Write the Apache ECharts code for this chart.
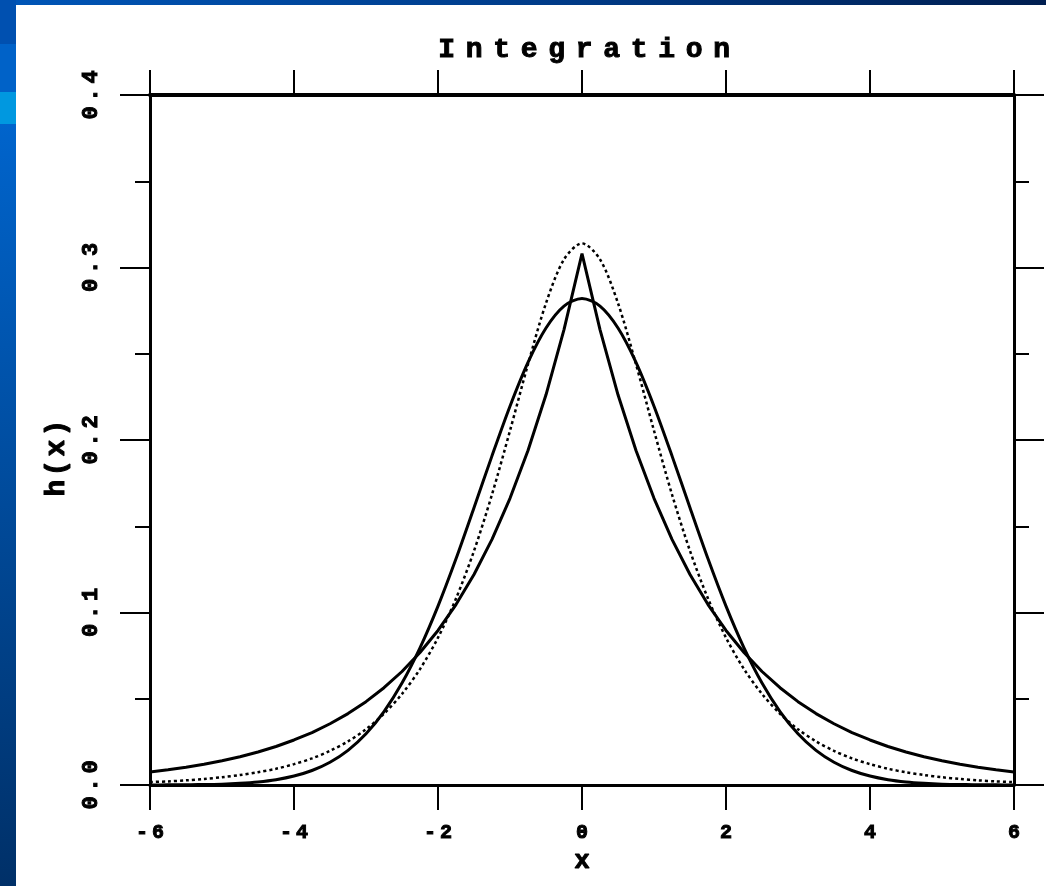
<!DOCTYPE html>
<html>
<head>
<meta charset="utf-8">
<script src="https://cdn.jsdelivr.net/npm/echarts@6/dist/echarts.min.js"></script>
<style>
html,body{margin:0;padding:0;width:1046px;height:886px;overflow:hidden;background:#fff;}
#bgTop{position:absolute;left:0;top:0;width:1046px;height:5px;background:linear-gradient(to right,#0056b8,#003a86 55%,#001e50);}
#bgLeft{position:absolute;left:0;top:0;width:16px;height:886px;background:linear-gradient(to bottom,#0050b0 0,#0050b0 44px,#0062c8 44px,#0062c8 92px,#0098e0 92px,#0098e0 124px,#0064cc 124px,#003068 886px);}
#chart{position:absolute;left:0;top:0;width:1046px;height:886px;}
</style>
</head>
<body>
<div id="bgTop"></div>
<div id="bgLeft"></div>
<div id="chart"></div>
<script>
// ---- data ----
const titleText = 'Integration';
const xName = 'x';
const yName = 'h(x)';
const xTicks = [-6, -4, -2, 0, 2, 4, 6];
const yTicks = [0.0, 0.1, 0.2, 0.3, 0.4];

const xValues = [-6,-5.75,-5.5,-5.25,-5,-4.75,-4.5,-4.25,-4,-3.75,-3.5,-3.25,-3,-2.75,-2.5,-2.25,-2,-1.75,-1.5,-1.25,-1,-0.75,-0.5,-0.25,
  0,0.25,0.5,0.75,1,1.25,1.5,1.75,2,2.25,2.5,2.75,3,3.25,3.5,3.75,4,4.25,4.5,4.75,5,5.25,5.5,5.75,6];

// broad, rounded solid curve
const broadSolid = [0.0000,0.0001,0.0001,0.0003,0.0005,0.0010,0.0018,0.0031,0.0052,0.0084,0.0132,0.0201,0.0297,0.0426,0.0591,0.0795,0.1037,0.1311,0.1607,0.1908,0.2196,0.2450,0.2649,0.2776,
  0.2820,0.2776,0.2649,0.2450,0.2196,0.1908,0.1607,0.1311,0.1037,0.0795,0.0591,0.0426,0.0297,0.0201,0.0132,0.0084,0.0052,0.0031,0.0018,0.0010,0.0005,0.0003,0.0001,0.0001,0.0000];

// sharp-peaked solid curve with heavy tails
const cuspSolid = [0.0076,0.0088,0.0103,0.0120,0.0141,0.0164,0.0191,0.0223,0.0261,0.0304,0.0355,0.0414,0.0483,0.0564,0.0658,0.0768,0.0896,0.1046,0.1220,0.1424,0.1662,0.1939,0.2262,0.2640,
  0.3080,0.2640,0.2262,0.1939,0.1662,0.1424,0.1220,0.1046,0.0896,0.0768,0.0658,0.0564,0.0483,0.0414,0.0355,0.0304,0.0261,0.0223,0.0191,0.0164,0.0141,0.0120,0.0103,0.0088,0.0076];

// dotted curve
const dottedCurve = [0.0017,0.0021,0.0027,0.0035,0.0045,0.0058,0.0074,0.0094,0.0121,0.0154,0.0198,0.0253,0.0323,0.0413,0.0528,0.0672,0.0854,0.1081,0.1357,0.1684,0.2054,0.2439,0.2793,0.3047,
  0.3140,0.3047,0.2793,0.2439,0.2054,0.1684,0.1357,0.1081,0.0854,0.0672,0.0528,0.0413,0.0323,0.0253,0.0198,0.0154,0.0121,0.0094,0.0074,0.0058,0.0045,0.0035,0.0027,0.0021,0.0017];

// ---- chart ----
const FONT = '"Liberation Mono", "DejaVu Sans Mono", monospace';
function spaced(str, key) {
  return String(str).split('').map(function (ch) { return '{' + key + '|' + ch + '}'; }).join('');
}
function pairs(ys) { return xValues.map(function (x, i) { return [x, ys[i]]; }); }
function glyph(size, width, lh) {
  return { fontFamily: FONT, fontWeight: 'bold', fontSize: size, width: width, align: 'center', color: '#000',
           lineHeight: lh, textBorderColor: '#000', textBorderWidth: 1 };
}

const black = '#000';
const xMin = xTicks[0], xMax = xTicks[xTicks.length - 1];
const xInt = xTicks[1] - xTicks[0];
const yMin = yTicks[0], yMax = yTicks[yTicks.length - 1];
const yInt = yTicks[1] - yTicks[0];

const chart = echarts.init(document.getElementById('chart'), null, { renderer: 'canvas' });

const baseX = {
  type: 'value', min: xMin, max: xMax, interval: xInt,
  splitLine: { show: false },
  axisTick: { show: true, inside: false, length: 25, lineStyle: { color: black, width: 2 } },
  axisLine: { show: true, onZero: false, lineStyle: { color: black, width: 3 } }
};
const baseY = {
  type: 'value', min: yMin, max: yMax, interval: yInt,
  splitLine: { show: false },
  axisTick: { show: true, inside: false, length: 30, lineStyle: { color: black, width: 2 } },
  minorTick: { show: true, splitNumber: 2, length: 15, lineStyle: { color: black, width: 2 } },
  minorSplitLine: { show: false },
  axisLine: { show: true, onZero: false, lineStyle: { color: black, width: 3 } }
};

chart.setOption({
  backgroundColor: 'transparent',
  animation: false,
  title: {
    text: spaced(titleText, 't'),
    left: 428, top: 30,
    textStyle: { rich: { t: glyph(28, 27.5, 30) } }
  },
  grid: { left: 150, right: 32, top: 95, bottom: 101, containLabel: false },
  xAxis: [
    Object.assign({}, baseX, {
      position: 'bottom',
      axisLabel: {
        show: true, margin: 38,
        formatter: function (v) { return spaced(v, 'l'); },
        rich: { l: glyph(20, 16, 20) }
      },
      name: spaced(xName, 'n'), nameLocation: 'middle', nameGap: 59,
      nameTextStyle: { rich: { n: glyph(26, 18, 24) } }
    }),
    Object.assign({}, baseX, {
      position: 'top',
      axisLabel: { show: false },
      axisLine: { show: true, onZero: false, lineStyle: { color: black, width: 4 } }
    })
  ],
  yAxis: [
    Object.assign({}, baseY, {
      position: 'left',
      axisLabel: {
        show: true, rotate: 90, margin: 50,
        formatter: function (v) { return spaced(v.toFixed(1), 'l'); },
        rich: { l: glyph(22, 18, 18) }
      },
      name: spaced(yName, 'n'), nameLocation: 'middle', nameRotate: 90, nameGap: 64,
      nameTextStyle: { padding: [0, 36, 0, 0], rich: { n: glyph(28, 20, 24) } }
    }),
    Object.assign({}, baseY, {
      position: 'right',
      axisLabel: { show: false }
    })
  ],
  series: [
    { name: 'broad', type: 'line', xAxisIndex: 0, yAxisIndex: 0, data: pairs(broadSolid), smooth: 0.3, showSymbol: false,
      lineStyle: { color: black, width: 3, type: 'solid' }, z: 3 },
    { name: 'cusp', type: 'line', xAxisIndex: 0, yAxisIndex: 0, data: pairs(cuspSolid), smooth: false, showSymbol: false,
      lineStyle: { color: black, width: 3, type: 'solid' }, z: 3 },
    { name: 'dotted', type: 'line', xAxisIndex: 0, yAxisIndex: 0, data: pairs(dottedCurve), smooth: 0.3, showSymbol: false,
      lineStyle: { color: black, width: 2.5, type: [3, 3] }, z: 3 }
  ]
});
</script>
</body>
</html>
